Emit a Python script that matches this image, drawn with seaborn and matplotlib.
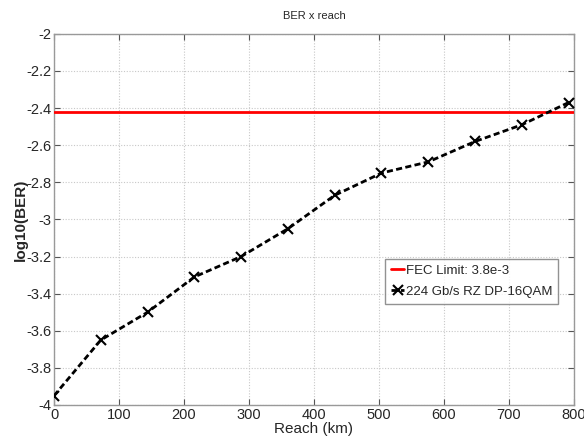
import matplotlib
matplotlib.use("Agg")
import matplotlib.pyplot as plt
import seaborn as sns
import numpy as np
import pandas as pd

# data
reach_km = [0, 72, 144, 216, 288, 360, 432, 504, 576, 648, 720, 792]
log_ber = [-3.95, -3.65, -3.50, -3.31, -3.20, -3.05, -2.87, -2.75, -2.69, -2.58, -2.49, -2.37]
fec_limit = 3.8e-3
x_ticks = [0, 100, 200, 300, 400, 500, 600, 700, 800]
y_ticks = [-4, -3.8, -3.6, -3.4, -3.2, -3, -2.8, -2.6, -2.4, -2.2, -2]
y_tick_labels = ["-4", "-3.8", "-3.6", "-3.4", "-3.2", "-3", "-2.8", "-2.6", "-2.4", "-2.2", "-2"]

sns.set_style("white")
plt.rcParams['font.family'] = ['Liberation Sans', 'DejaVu Sans']

df = pd.DataFrame({"reach": reach_km, "logber": log_ber})

fig = plt.figure(figsize=(5.84, 4.45), dpi=100)
ax = fig.add_axes([0.0925, 0.0899, 0.890, 0.834])

ax.axhline(np.log10(fec_limit), color="#ff0000", lw=2, label="FEC Limit: 3.8e-3", zorder=3)
sns.lineplot(data=df, x="reach", y="logber", ax=ax, color="black", lw=2,
             linestyle=(0, (2.2, 1.2)), marker="x", markersize=7, markeredgewidth=1.5,
             markeredgecolor="black", label="224 Gb/s RZ DP-16QAM", zorder=4)

ax.set_xlim(0, 800)
ax.set_ylim(-4, -2)
ax.set_xticks(x_ticks)
ax.set_yticks(y_ticks)
ax.set_yticklabels(y_tick_labels)
ax.tick_params(direction="in", length=4, color="#555555", labelsize=10.5, pad=2,
               top=True, right=True, bottom=True, left=True)
ax.grid(True, color="#c8c8c8", linestyle=(0, (1, 1.5)), lw=0.8)
for s in ax.spines.values():
    s.set_color("#999999")
    s.set_linewidth(1)

ax.set_title("BER x reach", fontsize=8, pad=11)
ax.set_xlabel("Reach (km)", fontsize=11, labelpad=0)
ax.set_ylabel("log10(BER)", fontsize=11, fontweight="bold", labelpad=-1)

leg = ax.legend(loc="upper left", bbox_to_anchor=(0.637, 0.394), fontsize=9.5,
                frameon=True, fancybox=False, handlelength=1.0, handletextpad=0.1,
                borderpad=0.45, labelspacing=0.65, borderaxespad=0)
leg.get_frame().set_edgecolor("#777777")
leg.get_frame().set_linewidth(1)

fig.savefig("out.png", dpi=100)
